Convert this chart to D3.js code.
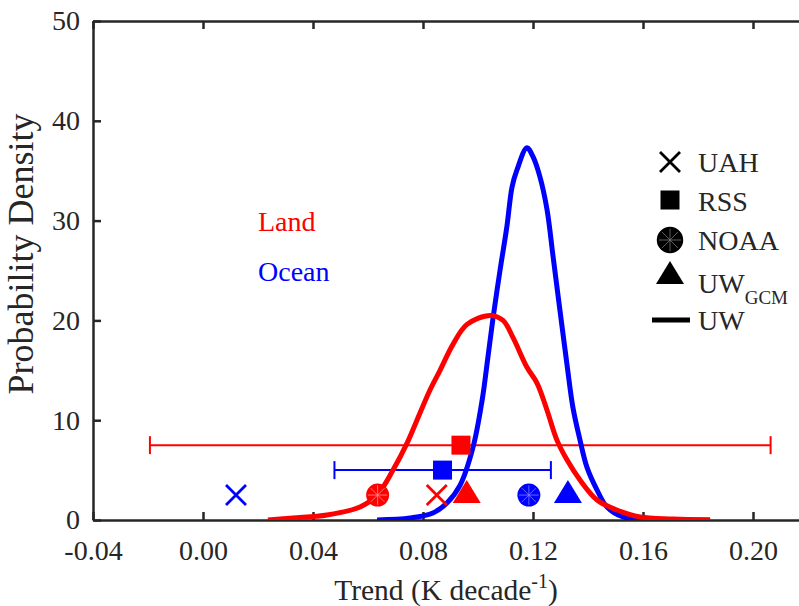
<!DOCTYPE html>
<html><head><meta charset="utf-8">
<script src="https://cdn.jsdelivr.net/npm/d3@7"></script>
<style>body{margin:0;background:#fff}svg{display:block}text{font-family:"Liberation Serif","Times New Roman",serif;fill:#262626}</style>
</head><body>
<svg id="c" width="799" height="606"></svg>
<script>
// ---- data ----
const landTrend = [0.0236,0.0327,0.0451,0.0571,0.0633,0.0691,0.0742,0.0778,0.0825,0.0862,0.0909,0.0960,0.1044,0.1091,0.1127,0.1178,0.1215,0.1251,0.1287,0.1324,0.1371,0.1433,0.1505,0.1589,0.1709,0.1844];
const landDensity = [0,0.2,0.5,1.3,2.5,5.0,7.7,10.0,13.0,15.0,17.6,19.6,20.5,20.0,18.3,15.3,13.7,11.0,8.0,6.0,4.0,2.0,1.0,0.3,0.1,0];
const oceanTrend = [0.0633,0.0753,0.0836,0.0887,0.0935,0.0982,0.1015,0.1036,0.1055,0.1080,0.1105,0.1124,0.1142,0.1178,0.1200,0.1225,0.1251,0.1273,0.1298,0.1324,0.1345,0.1371,0.1396,0.1433,0.1469,0.1527,0.1615,0.1844];
const oceanDensity = [0,0.2,0.7,1.7,3.5,7.3,12.0,16.3,20.3,25.0,29.4,33.4,35.1,37.3,36.4,34.4,31.1,26.4,21.0,15.5,11.3,8.0,5.3,3.0,1.3,0.3,0.05,0];

const products = ["UAH","RSS","NOAA","UWGCM"];
const landObsTrend = [0.0850,0.0938,0.0635,0.0959];
const landObsY = [2.5,7.5,2.5,2.5];
const oceanObsTrend = [0.0120,0.0871,0.1185,0.1327];
const oceanObsY = [2.5,5.0,2.5,2.5];

const uwRangeLand = [-0.0193,0.2064]; const uwRangeLandY = 7.5;
const uwRangeOcean = [0.0478,0.1265]; const uwRangeOceanY = 5.0;

const xTicks = [-0.04,0.00,0.04,0.08,0.12,0.16,0.20];
const yTicks = [0,10,20,30,40,50];

// ---- drawing ----
const svg = d3.select("#c");
const L=93, T=21, B=520;
const x = d3.scaleLinear().domain([-0.04,0.22]).range([L, L+0.26*2750]);
const y = d3.scaleLinear().domain([0,50]).range([B,T]);
const RED="#ff0000", BLUE="#0000ff", AX="#262626";

const defs = svg.append("defs");
defs.append("clipPath").attr("id","pc").append("rect").attr("x",L).attr("y",T).attr("width",x.range()[1]-L).attr("height",B-T);

// axes
const xb = svg.append("g").attr("transform",`translate(0,${B})`).call(d3.axisBottom(x).tickValues(xTicks).tickSizeInner(-8).tickSizeOuter(0).tickPadding(20).tickFormat(d3.format(".2f")));
const xt = svg.append("g").attr("transform",`translate(0,${T})`).call(d3.axisTop(x).tickValues(xTicks).tickSizeInner(-8).tickSizeOuter(0).tickFormat(""));
const yl = svg.append("g").attr("transform",`translate(${L},0)`).call(d3.axisLeft(y).tickValues(yTicks).tickSizeInner(-8).tickSizeOuter(0).tickPadding(13));
[xb,xt,yl].forEach(g=>{
  g.select(".domain").attr("stroke",AX).attr("stroke-width",2.5);
  g.selectAll(".tick line").attr("stroke",AX).attr("stroke-width",2.5);
  g.selectAll(".tick text").attr("font-size",28).attr("fill",AX).style("font-family",'"Liberation Serif",serif');
});
xb.selectAll(".tick text").attr("dy","0.71em");
yl.selectAll(".tick text").attr("dy","0.32em");
xb.selectAll(".tick text").text(d=>d3.format(".2f")(d).replace("−","-"));

// axis titles
const xt2 = svg.append("text").attr("x",446).attr("y",600).attr("text-anchor","middle").attr("font-size",29.5);
xt2.append("tspan").text("Trend (K decade");
xt2.append("tspan").attr("font-size",20).attr("dy",-12).text("-1");
xt2.append("tspan").attr("dy",12).text(")");
svg.append("text").attr("transform","translate(33,254) rotate(-90)").attr("text-anchor","middle").attr("font-size",36).text("Probability Density");

const plot = svg.append("g").attr("clip-path","url(#pc)");

// error bars
function errbar(r, yv, col){
  const g = plot.append("g").attr("stroke",col).attr("stroke-width",2);
  g.append("line").attr("x1",x(r[0])).attr("x2",x(r[1])).attr("y1",y(yv)).attr("y2",y(yv));
  r.forEach(v=>g.append("line").attr("x1",x(v)).attr("x2",x(v)).attr("y1",y(yv)-9).attr("y2",y(yv)+9));
}
errbar(uwRangeLand, uwRangeLandY, RED);
errbar(uwRangeOcean, uwRangeOceanY, BLUE);

// curves
const line = d3.line().curve(d3.curveCatmullRom.alpha(0.5));
plot.append("path").attr("d",line(oceanTrend.map((t,i)=>[x(t),y(oceanDensity[i])]))).attr("fill","none").attr("stroke",BLUE).attr("stroke-width",5).attr("stroke-linejoin","round");
plot.append("path").attr("d",line(landTrend.map((t,i)=>[x(t),y(landDensity[i])]))).attr("fill","none").attr("stroke",RED).attr("stroke-width",5).attr("stroke-linejoin","round");

// markers
function marker(g, kind, cx, cy, col, s, spoke){
  s = s||1;
  if(kind==="UAH"){
    const h=10*s;
    g.append("path").attr("d",`M${cx-h},${cy-h}L${cx+h},${cy+h}M${cx-h},${cy+h}L${cx+h},${cy-h}`).attr("stroke",col).attr("stroke-width",2.8).attr("fill","none");
  } else if(kind==="RSS"){
    const h=9.5*s;
    g.append("rect").attr("x",cx-h).attr("y",cy-h).attr("width",2*h).attr("height",2*h).attr("fill",col);
  } else if(kind==="NOAA"){
    const r=11.5*s;
    g.append("circle").attr("cx",cx).attr("cy",cy).attr("r",r).attr("fill",col);
    for(let k=0;k<4;k++){const a=k*Math.PI/4;
      g.append("line").attr("x1",cx-Math.cos(a)*r*0.85).attr("y1",cy-Math.sin(a)*r*0.85).attr("x2",cx+Math.cos(a)*r*0.85).attr("y2",cy+Math.sin(a)*r*0.85).attr("stroke",spoke).attr("stroke-width",0.8);}
  } else {
    g.append("path").attr("d",`M${cx},${cy-15*s}L${cx+14*s},${cy+8*s}L${cx-14*s},${cy+8*s}Z`).attr("fill",col);
  }
}
const mg = svg.append("g");
products.forEach((p,i)=>{
  marker(mg,p,x(landObsTrend[i]),y(landObsY[i]),RED,1,"#ff9090");
  marker(mg,p,x(oceanObsTrend[i]),y(oceanObsY[i]),BLUE,1,"#8080ff");
});

// Land / Ocean labels
svg.append("text").attr("x",258).attr("y",231).attr("font-size",28).style("fill",RED).text("Land");
svg.append("text").attr("x",258).attr("y",281).attr("font-size",28).style("fill",BLUE).text("Ocean");

// legend
const lg = svg.append("g");
const legY = [162,200,240,276];
products.forEach((p,i)=>{
  marker(lg,p,670,legY[i],"#000",p==="NOAA"?1.15:1,"#777");
});
lg.append("text").attr("x",698).attr("y",172).attr("font-size",28).text("UAH");
lg.append("text").attr("x",698).attr("y",211).attr("font-size",28).text("RSS");
lg.append("text").attr("x",698).attr("y",250).attr("font-size",28).text("NOAA");
const uwg = lg.append("text").attr("x",698).attr("y",293).attr("font-size",28);
uwg.append("tspan").text("UW");
uwg.append("tspan").attr("font-size",19).attr("dy",11).text("GCM");
lg.append("line").attr("x1",652).attr("x2",690).attr("y1",320).attr("y2",320).attr("stroke","#000").attr("stroke-width",5);
lg.append("text").attr("x",698).attr("y",330).attr("font-size",28).text("UW");
</script>
</body></html>
